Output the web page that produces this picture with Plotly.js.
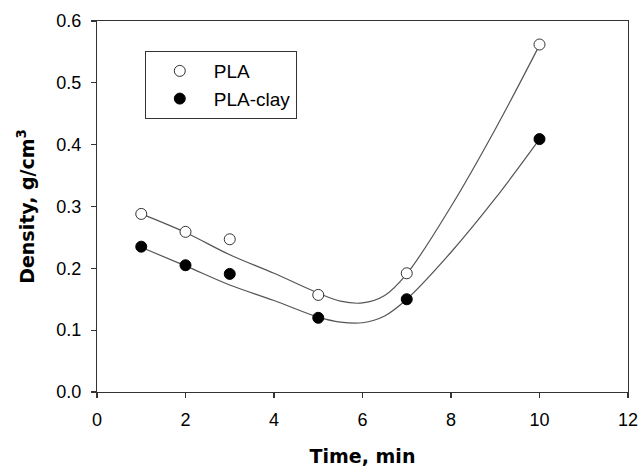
<!DOCTYPE html>
<html>
<head>
<meta charset="utf-8">
<script src="https://cdn.plot.ly/plotly-3.0.1.min.js"></script>
<style>html,body{margin:0;padding:0;background:#fff;}#chart{width:641px;height:467px;}</style>
</head>
<body>
<div id="chart"></div>
<script>
// Measured points
const timeMin = [1, 2, 3, 5, 7, 10];
const densityPLA = [0.288, 0.259, 0.247, 0.157, 0.192, 0.562];
const densityPLAClay = [0.235, 0.205, 0.191, 0.120, 0.150, 0.409];

// Fitted curves
const fitTime = [1, 2, 3, 4, 5, 5.5, 6, 6.5, 7, 8, 9, 10];
const fitPLA = [0.288, 0.258, 0.222, 0.192, 0.160, 0.147, 0.144, 0.156, 0.191, 0.300, 0.425, 0.561];
const fitPLAClay = [0.234, 0.204, 0.173, 0.148, 0.121, 0.113, 0.112, 0.123, 0.150, 0.226, 0.313, 0.409];

const xTicks = [0, 2, 4, 6, 8, 10, 12];
const yTicks = [0.0, 0.1, 0.2, 0.3, 0.4, 0.5, 0.6];

const lineStyle = {color: '#555', width: 1.2, shape: 'spline', smoothing: 1};

const traces = [
  {x: fitTime, y: fitPLA, mode: 'lines', line: lineStyle, showlegend: false, hoverinfo: 'skip'},
  {x: fitTime, y: fitPLAClay, mode: 'lines', line: lineStyle, showlegend: false, hoverinfo: 'skip'},
  {x: timeMin, y: densityPLA, mode: 'markers', name: 'PLA',
   marker: {symbol: 'circle', size: 11, color: '#fff', line: {color: '#333', width: 1}}},
  {x: timeMin, y: densityPLAClay, mode: 'markers', name: 'PLA-clay',
   marker: {symbol: 'circle', size: 11, color: '#000', line: {color: '#000', width: 1}}}
];

const font = {family: 'Liberation Sans, Arial, sans-serif', color: '#000'};
const titleFont = {family: 'DejaVu Sans, sans-serif', color: '#000', size: 19, weight: 'bold'};

const layout = {
  width: 641, height: 467,
  margin: {l: 97, r: 13, t: 21, b: 75},
  paper_bgcolor: '#fff', plot_bgcolor: '#fff',
  font: Object.assign({size: 18}, font),
  showlegend: true,
  legend: {
    x: 0.09, y: 0.919, xanchor: 'left', yanchor: 'top',
    bordercolor: '#333', borderwidth: 1, bgcolor: '#fff',
    font: Object.assign({size: 19}, font),
    tracegroupgap: 0, itemwidth: 58
  },
  xaxis: {
    range: [0, 12], tickvals: xTicks, ticktext: xTicks.map(String),
    showgrid: false, zeroline: false,
    showline: true, linecolor: '#333', linewidth: 1.2, mirror: true,
    ticks: 'outside', ticklen: 5, tickcolor: '#333', tickwidth: 1.2,
    ticklabelstandoff: 6,
    tickfont: Object.assign({size: 18}, font),
    title: {text: 'Time, min', font: titleFont, standoff: 25}
  },
  yaxis: {
    range: [0, 0.6], tickvals: yTicks, ticktext: yTicks.map(v => v.toFixed(1)),
    showgrid: false, zeroline: false,
    showline: true, linecolor: '#333', linewidth: 1.2, mirror: true,
    ticks: 'outside', ticklen: 5, tickcolor: '#333', tickwidth: 1.2,
    ticklabelstandoff: 6,
    tickfont: Object.assign({size: 18}, font),
    title: {text: 'Density, g/cm<sup>3</sup>', font: titleFont, standoff: 16}
  }
};

Plotly.newPlot('chart', traces, layout, {displayModeBar: false, staticPlot: true});
</script>
</body>
</html>
